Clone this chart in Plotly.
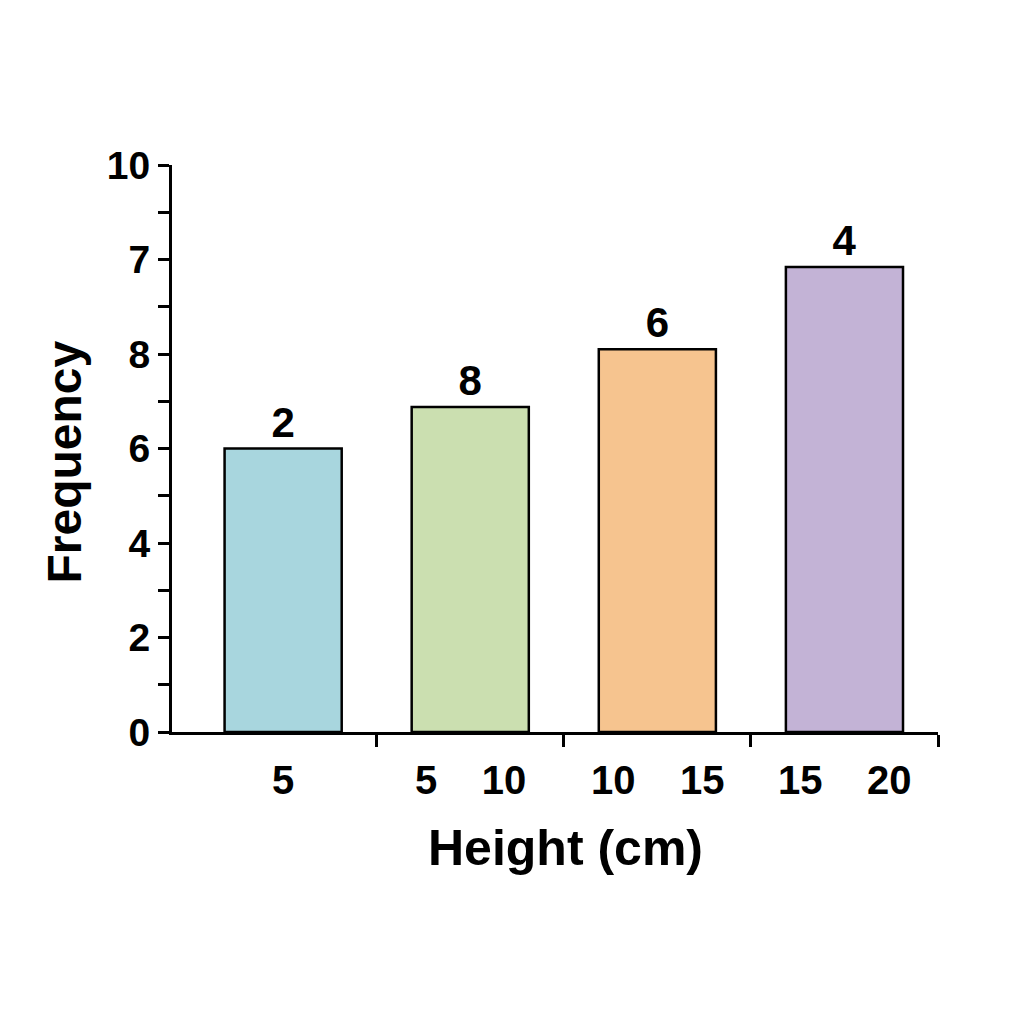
import plotly.graph_objects as go

# bins, bar heights and the labels printed on the chart
categories = ["5", "5\u00a0\u00a0\u00a0\u00a010", "10\u00a0\u00a0\u00a0\u00a015", "15\u00a0\u00a0\u00a0\u00a020"]
positions = [0, 1, 2, 3]
heights = [6.0, 6.88, 8.1, 9.84]
bar_labels = ["2", "8", "6", "4"]
colors = ["#a8d6de", "#cbdfb0", "#f6c48f", "#c3b3d6"]
y_tickvals = [0, 2, 4, 6, 8, 10, 12]
y_ticktext = ["0", "2", "4", "6", "8", "7", "10"]
x_boundaries = [0.5, 1.5, 2.5, 3.5]

font_family = "Liberation Sans, Arial, sans-serif"

fig = go.Figure(go.Bar(
    x=positions, y=heights, width=0.626,
    marker=dict(color=colors, line=dict(color="black", width=2.5)),
    text=bar_labels, textposition="outside", cliponaxis=False,
    textfont=dict(family=font_family, size=42, color="black", weight="bold"),
))

# page body has an 8px margin, so the margins are trimmed by 8
fig.update_layout(
    width=1024, height=1024,
    margin=dict(l=164, r=94, t=157, b=300),
    paper_bgcolor="white", plot_bgcolor="white",
    showlegend=False,
    font=dict(family=font_family, color="black"),
)

fig.update_xaxes(
    range=[-0.594, 3.5], automargin=False,
    tickvals=x_boundaries, ticktext=["", "", "", ""],
    ticks="outside", ticklen=12, tickwidth=2.5, tickcolor="black",
    showline=True, linewidth=3, linecolor="black",
    showgrid=False, zeroline=False,
)
fig.update_yaxes(
    range=[0, 12], automargin=False,
    tickvals=y_tickvals, ticktext=y_ticktext,
    ticks="outside", ticklen=11, tickwidth=2.5, tickcolor="black",
    minor=dict(dtick=1, ticks="outside", ticklen=11, tickwidth=2.5, tickcolor="black"),
    tickfont=dict(family=font_family, size=39, color="black", weight="bold"),
    showline=True, linewidth=3, linecolor="black",
    showgrid=False, zeroline=False,
)

# y title sits a little below the middle of the axis in the reference
fig.add_annotation(x=0, y=0.5, xref="paper", yref="paper", text="Frequency",
                   showarrow=False, textangle=-90, xanchor="center", yanchor="middle",
                   xshift=-108, yshift=-14,
                   font=dict(family=font_family, size=48, color="black", weight="bold"))

# category labels under each bar
for p, c in zip(positions, categories):
    fig.add_annotation(x=p, y=0, xref="x", yref="paper", text=c, showarrow=False,
                       yanchor="middle", yshift=-48,
                       font=dict(family=font_family, size=40, color="black", weight="bold"))

fig.add_annotation(x=0.5, y=0, xref="paper", yref="paper", text="Height (cm)",
                   showarrow=False, yanchor="middle", yshift=-116, xshift=10,
                   font=dict(family=font_family, size=50, color="black", weight="bold"))

fig.write_html("out.html")
